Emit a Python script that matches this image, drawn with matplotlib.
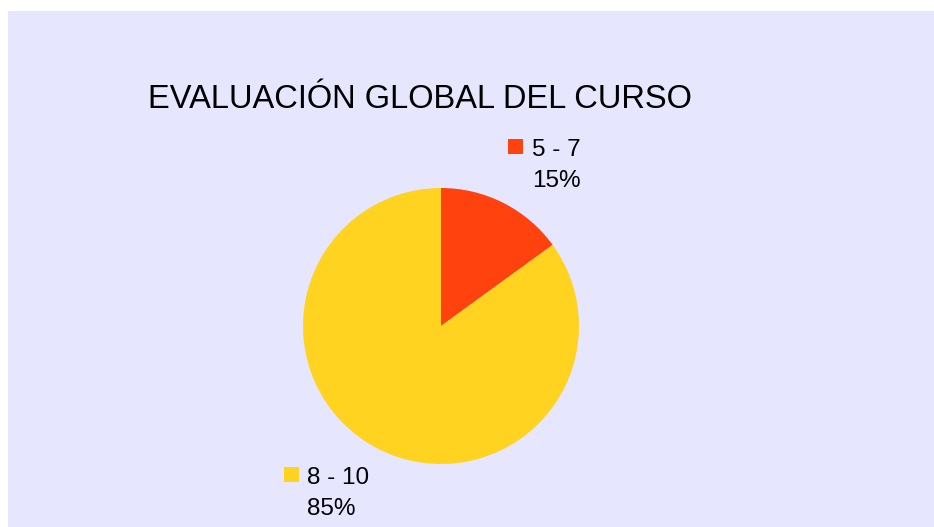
import matplotlib
matplotlib.use("Agg")
import matplotlib.pyplot as plt
from matplotlib.patches import Rectangle

plt.rcParams['font.family'] = ['Liberation Sans', 'DejaVu Sans']

# data
categories = ['5 - 7', '8 - 10']
shares = [15, 85]
colors = ['#FF420E', '#FFD320']
title = 'EVALUACIÓN GLOBAL DEL CURSO'

W, H = 934, 527
fig = plt.figure(figsize=(W / 100, H / 100), dpi=100)
fig.patch.set_facecolor('white')

# lavender chart area
fig.patches.append(Rectangle((8 / W, 0), 1 - 8 / W, 1 - 11 / H,
                             transform=fig.transFigure, facecolor='#E6E6FF',
                             edgecolor='none', zorder=-5))

# pie centred at (441, 326) px, radius 138 px
cx, cy, r = 441, 326, 138
ax = fig.add_axes([(cx - r) / W, (H - cy - r) / H, 2 * r / W, 2 * r / H])
ax.set_zorder(2)
ax.patch.set_visible(False)
ax.pie(shares, colors=colors, startangle=90, counterclock=False, radius=1,
       wedgeprops=dict(linewidth=0))
ax.set_xlim(-1, 1)
ax.set_ylim(-1, 1)
ax.set_aspect('equal')
ax.axis('off')

fig.text(148 / W, 1 - 108 / H, title, fontsize=23.5, ha='left', va='baseline')

# labels beside the slices: (square x, square top y, text x)
label_pos = [(508, 139, 532), (284, 467, 307)]
for (sx, sy, tx), cat, val, col in zip(label_pos, categories, shares, colors):
    fig.patches.append(Rectangle((sx / W, 1 - (sy + 15) / H), 15 / W, 15 / H,
                                 transform=fig.transFigure, facecolor=col,
                                 edgecolor='none'))
    fig.text(tx / W, 1 - (sy + 17) / H, cat, fontsize=17.5, ha='left', va='baseline')
    fig.text(tx / W, 1 - (sy + 48) / H, f'{val}%', fontsize=17.5, ha='left', va='baseline')

fig.savefig('out.png', dpi=100)
